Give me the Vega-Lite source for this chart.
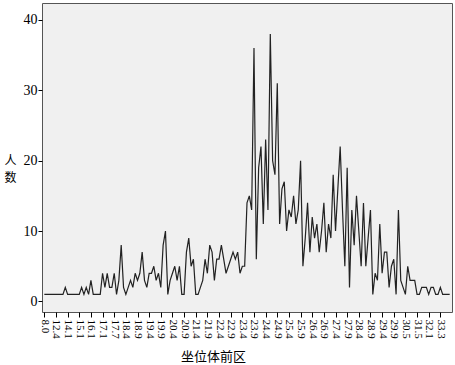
{
"$schema": "https://vega.github.io/schema/vega-lite/v6.json",
"width": 410, "height": 309,
"autosize": {"type": "none"},
"padding": {"left": 42, "top": 3, "right": 3, "bottom": 53},
"background": "white",
"config": {"view": {"fill": "#f0f0f0", "stroke": "#555", "strokeWidth": 1}, "font": "Liberation Serif"},
"data": {"values": [
{"d":"8.0","n":1},{"d":"9.0","n":1},{"d":"10.2","n":1},{"d":"11.0","n":1},{"d":"12.0","n":1},
{"d":"12.4","n":1},{"d":"12.8","n":1},{"d":"13.0","n":1},{"d":"13.5","n":1},{"d":"13.8","n":2},
{"d":"14.1","n":1},{"d":"14.3","n":1},{"d":"14.5","n":1},{"d":"14.7","n":1},{"d":"14.9","n":1},
{"d":"15.1","n":1},{"d":"15.3","n":2},{"d":"15.5","n":1},{"d":"15.7","n":2},{"d":"15.9","n":1},
{"d":"16.1","n":3},{"d":"16.3","n":1},{"d":"16.5","n":1},{"d":"16.7","n":1},{"d":"16.9","n":1},
{"d":"17.1","n":4},{"d":"17.2","n":2},{"d":"17.3","n":4},{"d":"17.4","n":2},{"d":"17.6","n":2},
{"d":"17.7","n":4},{"d":"17.8","n":1},{"d":"17.9","n":3},{"d":"18.0","n":8},{"d":"18.2","n":2},
{"d":"18.4","n":1},{"d":"18.5","n":2},{"d":"18.6","n":3},{"d":"18.7","n":2},{"d":"18.8","n":4},
{"d":"18.9","n":3},{"d":"19.0","n":4},{"d":"19.1","n":7},{"d":"19.2","n":3},{"d":"19.3","n":2},
{"d":"19.4","n":4},{"d":"19.5","n":4},{"d":"19.6","n":5},{"d":"19.7","n":3},{"d":"19.8","n":4},
{"d":"19.9","n":2},{"d":"20.0","n":8},{"d":"20.1","n":10},{"d":"20.2","n":1},{"d":"20.3","n":3},
{"d":"20.4","n":4},{"d":"20.5","n":5},{"d":"20.6","n":3},{"d":"20.7","n":5},{"d":"20.8","n":1},
{"d":"20.9","n":1},{"d":"21.0","n":7},{"d":"21.1","n":9},{"d":"21.2","n":5},{"d":"21.3","n":6},
{"d":"21.4","n":1},{"d":"21.5","n":1},{"d":"21.6","n":2},{"d":"21.7","n":3},{"d":"21.8","n":6},
{"d":"21.9","n":4},{"d":"22.0","n":8},{"d":"22.1","n":7},{"d":"22.2","n":3},{"d":"22.3","n":6},
{"d":"22.4","n":6},{"d":"22.5","n":8},{"d":"22.6","n":6},{"d":"22.7","n":4},{"d":"22.8","n":5},
{"d":"22.9","n":6},{"d":"23.0","n":7},{"d":"23.1","n":6},{"d":"23.2","n":7},{"d":"23.3","n":4},
{"d":"23.4","n":5},{"d":"23.5","n":5},{"d":"23.6","n":14},{"d":"23.7","n":15},{"d":"23.8","n":13},
{"d":"23.9","n":36},{"d":"24.0","n":6},{"d":"24.1","n":19},{"d":"24.2","n":22},{"d":"24.3","n":11},
{"d":"24.4","n":23},{"d":"24.5","n":13},{"d":"24.6","n":38},{"d":"24.7","n":20},{"d":"24.8","n":18},
{"d":"24.9","n":31},{"d":"25.0","n":11},{"d":"25.1","n":16},{"d":"25.2","n":17},{"d":"25.3","n":10},
{"d":"25.4","n":13},{"d":"25.5","n":12},{"d":"25.6","n":15},{"d":"25.7","n":11},{"d":"25.8","n":13},
{"d":"25.9","n":20},{"d":"26.0","n":5},{"d":"26.1","n":9},{"d":"26.2","n":14},{"d":"26.3","n":7},
{"d":"26.4","n":12},{"d":"26.5","n":9},{"d":"26.6","n":11},{"d":"26.7","n":7},{"d":"26.8","n":10},
{"d":"26.9","n":14},{"d":"27.0","n":7},{"d":"27.1","n":11},{"d":"27.2","n":9},{"d":"27.3","n":18},
{"d":"27.4","n":10},{"d":"27.5","n":16},{"d":"27.6","n":22},{"d":"27.7","n":13},{"d":"27.8","n":5},
{"d":"27.9","n":19},{"d":"28.0","n":2},{"d":"28.1","n":13},{"d":"28.2","n":8},{"d":"28.3","n":15},
{"d":"28.4","n":10},{"d":"28.5","n":5},{"d":"28.6","n":14},{"d":"28.7","n":5},{"d":"28.8","n":9},
{"d":"28.9","n":13},{"d":"29.0","n":1},{"d":"29.1","n":4},{"d":"29.2","n":3},{"d":"29.3","n":11},
{"d":"29.4","n":4},{"d":"29.5","n":7},{"d":"29.6","n":7},{"d":"29.7","n":2},{"d":"29.8","n":5},
{"d":"29.9","n":6},{"d":"30.0","n":1},{"d":"30.1","n":13},{"d":"30.2","n":3},{"d":"30.4","n":2},
{"d":"30.5","n":1},{"d":"30.6","n":5},{"d":"30.8","n":3},{"d":"31.0","n":3},{"d":"31.2","n":3},
{"d":"31.5","n":1},{"d":"31.6","n":1},{"d":"31.7","n":2},{"d":"31.8","n":2},{"d":"32.0","n":2},
{"d":"32.1","n":1},{"d":"32.3","n":2},{"d":"32.5","n":2},{"d":"32.8","n":1},{"d":"33.0","n":1},
{"d":"33.3","n":2},{"d":"33.5","n":1},{"d":"34.0","n":1},{"d":"34.5","n":1},{"d":"35.5","n":1}
]},
"mark": {"type": "line", "color": "#222", "strokeWidth": 1.2},
"encoding": {
  "x": {"field": "d", "type": "ordinal", "sort": null,
    "scale": {"type": "point", "padding": 10.1},
    "axis": {"title": "坐位体前区",
      "values": ["8.0","12.4","14.1","15.1","16.1","17.1","17.7","18.4","18.9","19.4","19.9","20.4","20.9","21.4","21.9","22.4","22.9","23.4","23.9","24.4","24.9","25.4","25.9","26.4","26.9","27.4","27.9","28.4","28.9","29.4","29.9","30.5","31.5","32.1","33.3"],
      "labelAngle": 90, "labelFont": "Liberation Serif", "labelFontSize": 11, "labelColor": "#000",
      "tickColor": "#000", "tickSize": 5, "domain": false, "labelPadding": 2, "grid": false,
      "titleFont": "Noto Sans CJK SC", "titleFontSize": 13, "titleFontWeight": "normal", "titleColor": "#000",
      "titleX": 171, "titleY": 48, "titleBaseline": "alphabetic", "titleAlign": "center"}},
  "y": {"field": "n", "type": "quantitative",
    "scale": {"domain": [-1.5, 42.4], "nice": false, "zero": false},
    "axis": {"values": [0, 10, 20, 30, 40], "title": ["人", "数"], "titleAngle": 0,
      "titleFont": "Noto Sans CJK SC", "titleFontSize": 12, "titleFontWeight": "normal", "titleColor": "#000",
      "titleX": -32, "titleY": 152, "titleAlign": "center", "titleBaseline": "top", "titleLineHeight": 17,
      "labelFont": "Liberation Serif", "labelFontSize": 14, "labelColor": "#000", "labelPadding": 1,
      "tickColor": "#000", "tickSize": 4, "domain": false, "grid": false}}
}
}
